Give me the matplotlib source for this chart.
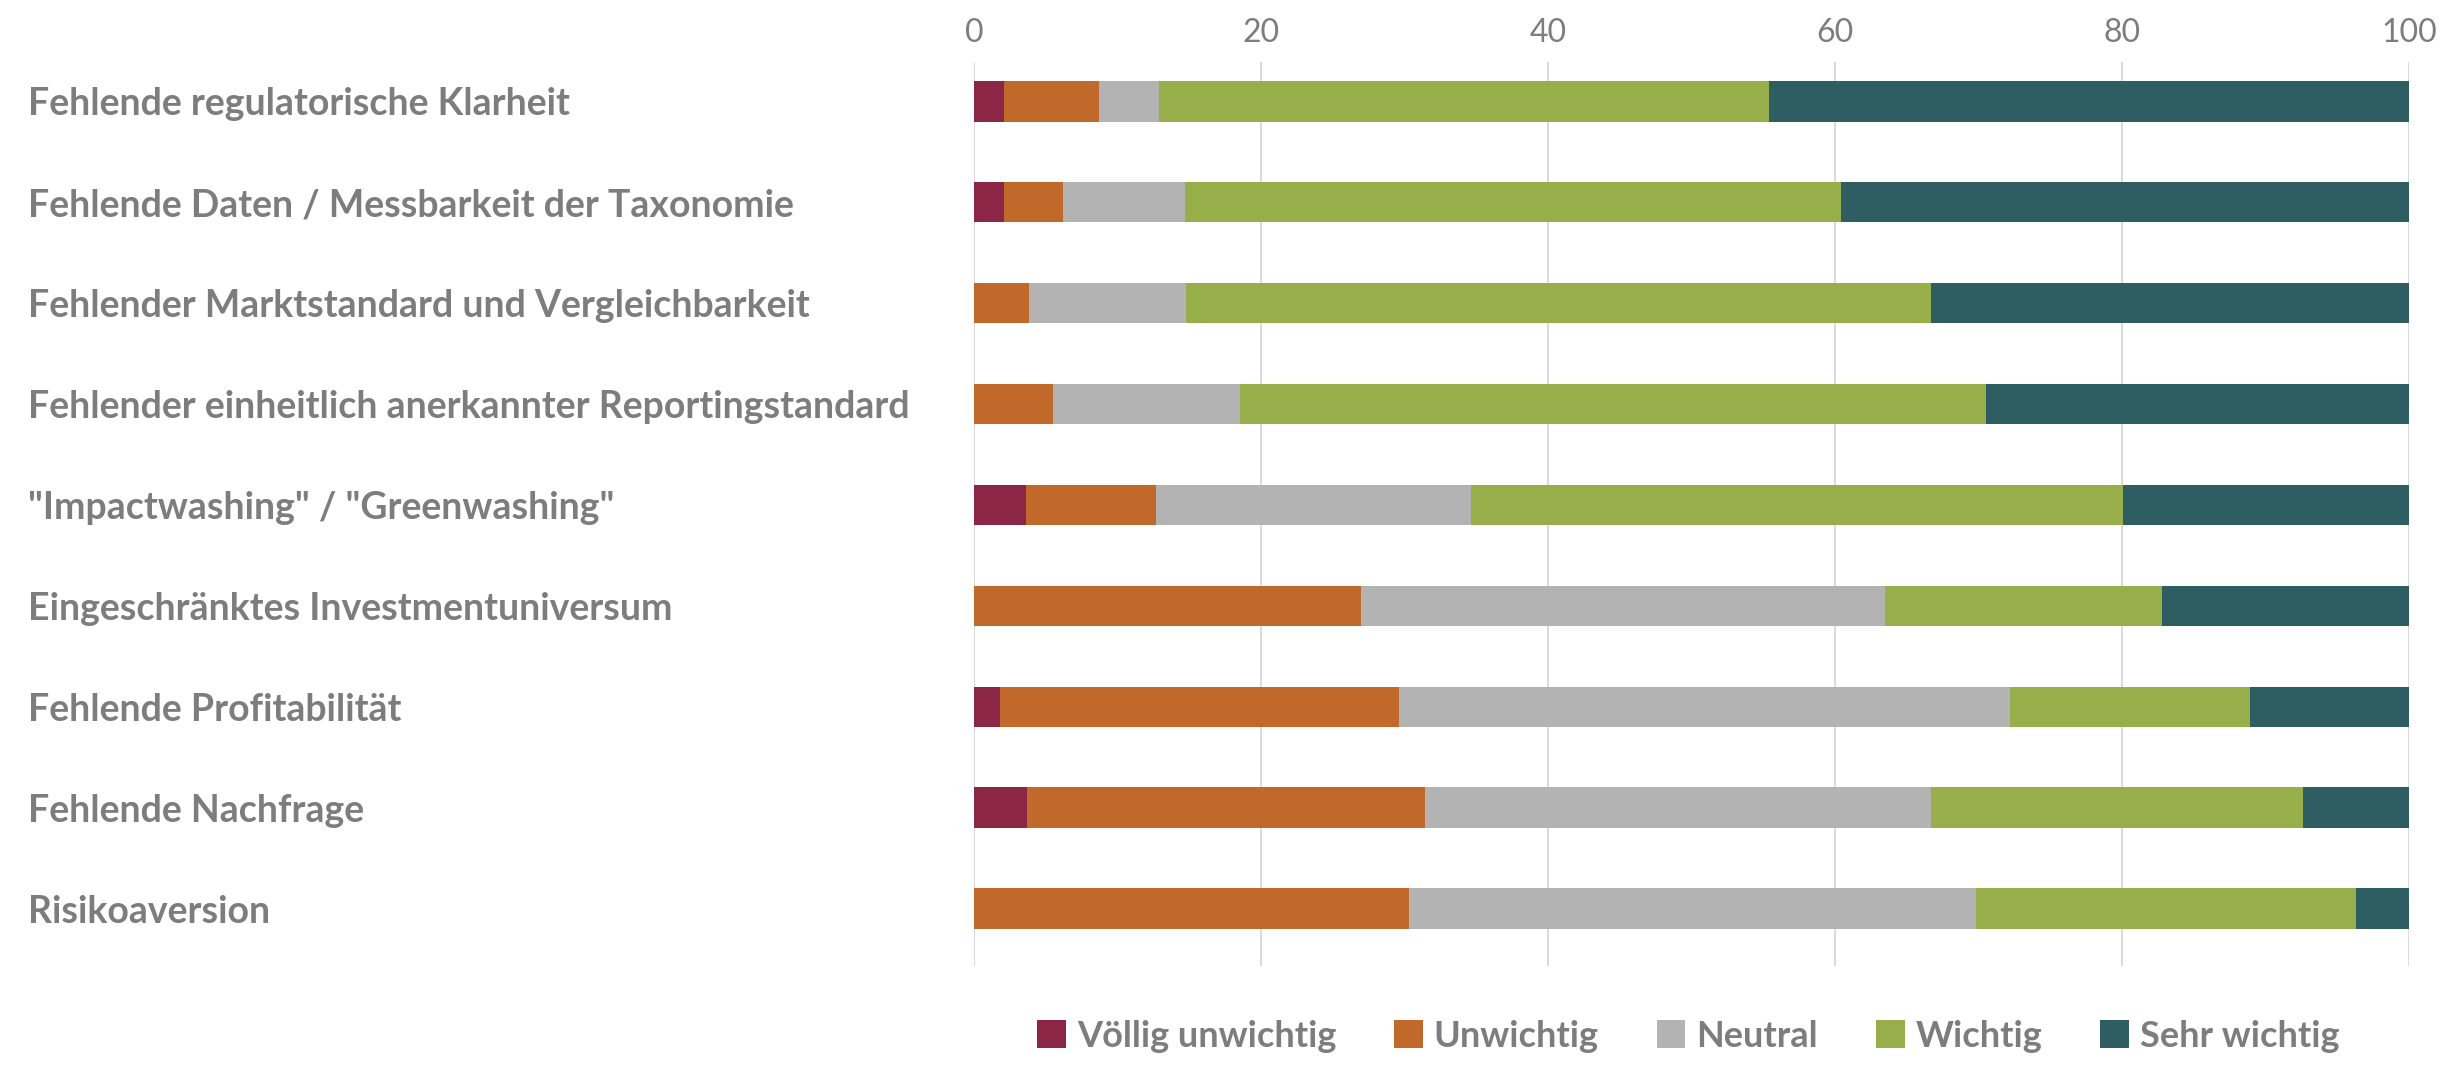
import numpy as np
import matplotlib.pyplot as plt

categories = [
    "Fehlende regulatorische Klarheit",
    "Fehlende Daten / Messbarkeit der Taxonomie",
    "Fehlender Marktstandard und Vergleichbarkeit",
    "Fehlender einheitlich anerkannter Reportingstandard",
    "\"Impactwashing\" / \"Greenwashing\"",
    "Eingeschränktes Investmentuniversum",
    "Fehlende Profitabilität",
    "Fehlende Nachfrage",
    "Risikoaversion",
]

series_names = ["Völlig unwichtig", "Unwichtig", "Neutral", "Wichtig", "Sehr wichtig"]

voellig_unwichtig = [2.1, 2.1, 0.0, 0.0, 3.6, 0.0, 1.8, 3.7, 0.0]
unwichtig = [6.6, 4.1, 3.8, 5.5, 9.1, 27.0, 27.8, 27.7, 30.3]
neutral = [4.2, 8.5, 11.0, 13.0, 21.9, 36.5, 42.6, 35.3, 39.5]
wichtig = [42.5, 45.7, 51.9, 52.0, 45.5, 19.3, 16.7, 25.9, 26.5]
sehr_wichtig = [44.6, 39.6, 33.3, 29.5, 19.9, 17.2, 11.1, 7.4, 3.7]

x_ticks = [0, 20, 40, 60, 80, 100]

colors = ["#8c2647", "#c0692a", "#b3b3b3", "#97ae4b", "#2e5e62"]
text_color = "#7d7d7d"

plt.rcParams['font.family'] = ['Lato', 'DejaVu Sans']

fig = plt.figure(figsize=(24.43, 10.66), dpi=100)
ax = fig.add_axes([0.3987, 0.0938, 0.5874, 0.848])

y = np.arange(len(categories))
left = np.zeros(len(categories))
for name, vals, c in zip(series_names,
                         [voellig_unwichtig, unwichtig, neutral, wichtig, sehr_wichtig],
                         colors):
    vals = np.array(vals)
    ax.barh(y, vals, left=left, height=0.4, color=c, label=name, zorder=3)
    left = left + vals

ax.set_xlim(0, 100)
ax.set_ylim(8.57, -0.39)
ax.set_xticks(x_ticks)
ax.xaxis.tick_top()
ax.tick_params(axis='x', length=0, pad=10, labelsize=23, labelcolor=text_color)
ax.grid(axis='x', color="#d4d4d4", linewidth=1.2, zorder=0)
for s in ax.spines.values():
    s.set_visible(False)

ax.set_yticks(y)
ax.set_yticklabels(categories, ha='left', fontsize=27, color=text_color,
                   fontweight='bold')
ax.tick_params(axis='y', length=0, pad=681)

leg = fig.legend(loc='center', bbox_to_anchor=(0.691, 0.028), ncol=5,
                 frameon=False, handlelength=0.8, handleheight=0.8,
                 handletextpad=0.3, columnspacing=1.6,
                 prop={'size': 26, 'weight': 'bold'})
for t in leg.get_texts():
    t.set_color(text_color)

fig.savefig("out.png", dpi=100)
